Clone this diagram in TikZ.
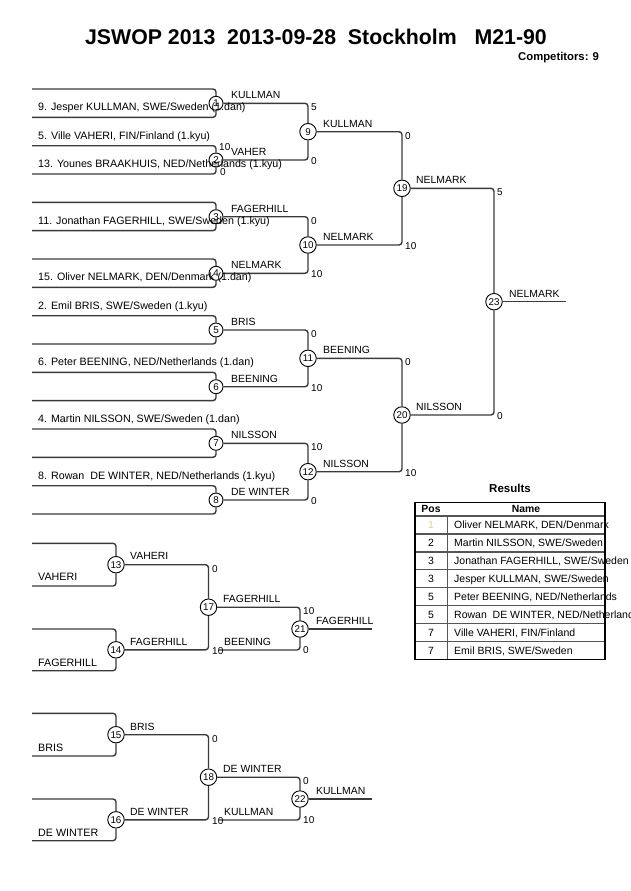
\documentclass[tikz,border=0pt]{standalone}
\usepackage{fontspec}
\setmainfont{Liberation Sans}
\definecolor{lc}{HTML}{3A3A3A}
\definecolor{pale}{HTML}{E2D27A}
\definecolor{tg}{HTML}{555555}
\begin{document}
\begin{tikzpicture}[x=1pt,y=-1pt,
  ln/.style={draw=lc, line width=1.4pt, rounded corners=3pt},
  mc/.style={circle, draw=black, line width=0.9pt, fill=white, inner sep=0pt, minimum size=14pt, font=\fontsize{9.8}{10}\selectfont},
  mcc/.style={mc, minimum size=16.5pt},
  nm/.style={anchor=west, inner sep=0pt, text height=7.6pt, text depth=0pt, font=\fontsize{10.7}{12}\selectfont},
  wl/.style={anchor=west, inner sep=0pt, text height=7.4pt, text depth=0pt, font=\fontsize{10.4}{12}\selectfont},
  sc/.style={anchor=west, inner sep=0pt, text height=7.2pt, text depth=0pt, font=\fontsize{10}{12}\selectfont},
  hd/.style={inner sep=0pt, text height=7.4pt, text depth=0pt, font=\bfseries\fontsize{10.4}{12}\selectfont},
  tx/.style={inner sep=0pt, text height=7.4pt, text depth=0pt, font=\fontsize{10.5}{12}\selectfont}]
\useasboundingbox (0,0) rectangle (630,891);

% title
\node[font=\bfseries\fontsize{21.3}{24}\selectfont, inner sep=0pt] (title) at (316,37.3) {JSWOP 2013~~2013-09-28~~Stockholm~~~M21-90};
\node[font=\bfseries\fontsize{11.3}{13}\selectfont, anchor=west, inner sep=0pt] (comp) at (518,57.3) {Competitors: 9};

% ---------- main bracket: circles ----------
\foreach \i/\cy in {1/103.3,2/160,3/216.7,4/273.3,5/330,6/386.7,7/443.3,8/500}
  \node[mc] (m\i) at (216,\cy) {\i};
\node[mcc] (m9)  at (308,131.7) {9};
\node[mcc] (m10) at (308,245) {10};
\node[mcc] (m11) at (308,358.3) {11};
\node[mcc] (m12) at (308,471.7) {12};
\node[mcc] (m19) at (402,188.3) {19};
\node[mcc] (m20) at (402,415) {20};
\node[mcc] (m23) at (494,301.7) {23};
\coordinate (f23) at (566,301.7);

% entry lines
\foreach \i/\t in {1/89,2/145.7,3/202.3,4/259,5/315.7,6/372.3,7/429,8/485.7}{
  \coordinate (e\i t) at (32,\t);
  \coordinate (e\i b) at (32,\t+28.3);
  \draw[ln] (e\i t) -| (m\i);
  \draw[ln] (e\i b) -| (m\i);
}
% round connectors
\draw[ln] (m1) -| (m9);  \draw[ln] (m2) -| (m9);
\draw[ln] (m3) -| (m10); \draw[ln] (m4) -| (m10);
\draw[ln] (m5) -| (m11); \draw[ln] (m6) -| (m11);
\draw[ln] (m7) -| (m12); \draw[ln] (m8) -| (m12);
\draw[ln] (m9) -| (m19); \draw[ln] (m10) -| (m19);
\draw[ln] (m11) -| (m20); \draw[ln] (m12) -| (m20);
\draw[ln] (m19) -| (m23); \draw[ln] (m20) -| (m23);
\draw[ln] (m23) -- (f23);

% competitor names
\node[nm] (n1) at (38,106.8) {9. Jesper KULLMAN, SWE/Sweden (1.dan)};
\node[nm] (n2) at (38,135.2) {5. Ville VAHERI, FIN/Finland (1.kyu)};
\node[nm] (n3) at (38,163.5) {13. Younes BRAAKHUIS, NED/Netherlands (1.kyu)};
\node[nm] (n4) at (38,220.2) {11. Jonathan FAGERHILL, SWE/Sweden (1.kyu)};
\node[nm] (n5) at (38,276.8) {15. Oliver NELMARK, DEN/Denmark (1.dan)};
\node[nm] (n6) at (38,305.2) {2. Emil BRIS, SWE/Sweden (1.kyu)};
\node[nm] (n7) at (38,361.8) {6. Peter BEENING, NED/Netherlands (1.dan)};
\node[nm] (n8) at (38,418.5) {4. Martin NILSSON, SWE/Sweden (1.dan)};
\node[nm] (n9) at (38,475.2) {8. Rowan~~DE WINTER, NED/Netherlands (1.kyu)};

% winner labels
\node[wl] (w1) at (231,95.0) {KULLMAN};
\node[wl] (w2) at (231,151.7) {VAHER};
\node[wl] (w3) at (231,208.4) {FAGERHILL};
\node[wl] (w4) at (231,265.0) {NELMARK};
\node[wl] (w5) at (231,321.7) {BRIS};
\node[wl] (w6) at (231,378.4) {BEENING};
\node[wl] (w7) at (231,435.0) {NILSSON};
\node[wl] (w8) at (231,491.7) {DE WINTER};
\node[wl] (w9)  at (323,123.4) {KULLMAN};
\node[wl] (w10) at (323,236.7) {NELMARK};
\node[wl] (w11) at (323,350.0) {BEENING};
\node[wl] (w12) at (323,463.4) {NILSSON};
\node[wl] (w19) at (416,180.0) {NELMARK};
\node[wl] (w20) at (416,406.7) {NILSSON};
\node[wl] (w23) at (509,293.4) {NELMARK};

% scores
\node[sc] (s2a) at (219,147) {10};
\node[sc] (s2b) at (220,172) {0};
\node[sc] (s9a) at (311,107.3) {5};
\node[sc] (s9b) at (311,161) {0};
\node[sc] (s10a) at (311,220.7) {0};
\node[sc] (s10b) at (311,274.3) {10};
\node[sc] (s11a) at (311,334) {0};
\node[sc] (s11b) at (311,387.7) {10};
\node[sc] (s12a) at (311,447.3) {10};
\node[sc] (s12b) at (311,501) {0};
\node[sc] (s19a) at (405,135.7) {0};
\node[sc] (s19b) at (405,246) {10};
\node[sc] (s20a) at (405,362.3) {0};
\node[sc] (s20b) at (405,472.7) {10};
\node[sc] (s23a) at (497,192.3) {5};
\node[sc] (s23b) at (497,416) {0};

% ---------- repechage ----------
\node[mcc] (m13) at (116,564.7) {13};
\node[mcc] (m14) at (116,649.8) {14};
\node[mcc] (m17) at (208.5,607.2) {17};
\node[mcc] (m21) at (300,629) {21};
\coordinate (r13t) at (32,543.3); \coordinate (r13b) at (32,586);
\coordinate (r14t) at (32,629);   \coordinate (r14b) at (32,670.7);
\coordinate (b21) at (219,650);
\coordinate (f21) at (372,629);
\draw[ln] (r13t) -| (m13); \draw[ln] (r13b) -| (m13);
\draw[ln] (r14t) -| (m14); \draw[ln] (r14b) -| (m14);
\draw[ln] (m13) -| (m17); \draw[ln] (m14) -| (m17);
\draw[ln] (m17) -| (m21); \draw[ln] (b21) -| (m21);
\draw[ln] (m21) -- (f21);
\node[nm] (q1) at (38,577) {VAHERI};
\node[nm] (q2) at (38,662.7) {FAGERHILL};
\node[wl] (w13) at (130,556) {VAHERI};
\node[wl] (w14) at (130,641.5) {FAGERHILL};
\node[wl] (w17) at (223,598.9) {FAGERHILL};
\node[wl] (wb21) at (224,641.7) {BEENING};
\node[wl] (w21) at (316,620.7) {FAGERHILL};
\node[sc] (s17a) at (212,568.5) {0};
\node[sc] (s17b) at (212,650.5) {10};
\node[sc] (s21a) at (303,611) {10};
\node[sc] (s21b) at (303,650) {0};

\node[mcc] (m15) at (116,734.7) {15};
\node[mcc] (m16) at (116,819.8) {16};
\node[mcc] (m18) at (208.5,777.2) {18};
\node[mcc] (m22) at (300,799) {22};
\coordinate (r15t) at (32,713.3); \coordinate (r15b) at (32,756);
\coordinate (r16t) at (32,799);   \coordinate (r16b) at (32,840.7);
\coordinate (b22) at (219,820);
\coordinate (f22) at (372,799);
\draw[ln] (r15t) -| (m15); \draw[ln] (r15b) -| (m15);
\draw[ln] (r16t) -| (m16); \draw[ln] (r16b) -| (m16);
\draw[ln] (m15) -| (m18); \draw[ln] (m16) -| (m18);
\draw[ln] (m18) -| (m22); \draw[ln] (b22) -| (m22);
\draw[ln] (m22) -- (f22);
\node[nm] (q3) at (38,747.3) {BRIS};
\node[nm] (q4) at (38,832.7) {DE WINTER};
\node[wl] (w15) at (130,726.3) {BRIS};
\node[wl] (w16) at (130,811.5) {DE WINTER};
\node[wl] (w18) at (223,768.9) {DE WINTER};
\node[wl] (wb22) at (224,811.7) {KULLMAN};
\node[wl] (w22) at (316,790.7) {KULLMAN};
\node[sc] (s18a) at (212,738.5) {0};
\node[sc] (s18b) at (212,820.5) {10};
\node[sc] (s22a) at (303,781) {0};
\node[sc] (s22b) at (303,820) {10};

% ---------- results table ----------
\node[font=\bfseries\fontsize{11.5}{13}\selectfont, inner sep=0pt, text height=8.3pt, text depth=0pt] (res) at (510,488.3) {Results};
\node[hd] (hpos) at (431,509.2) {Pos};
\node[hd] (hname) at (526,509.2) {Name};
\foreach \p/\nmtxt [count=\r] in {1/{Oliver NELMARK, DEN/Denmark},2/{Martin NILSSON, SWE/Sweden},3/{Jonathan FAGERHILL, SWE/Sweden},3/{Jesper KULLMAN, SWE/Sweden},5/{Peter BEENING, NED/Netherlands},5/{Rowan~~DE WINTER, NED/Netherlands},7/{Ville VAHERI, FIN/Finland},7/{Emil BRIS, SWE/Sweden}}{
  \ifnum\r=1
    \node[tx, text=pale] (p\r) at (431,{516+17.91*(\r-0.5)}) {\p};
  \else
    \node[tx] (p\r) at (431,{516+17.91*(\r-0.5)}) {\p};
  \fi
  \node[tx, anchor=west] (t\r) at (454,{516+17.91*(\r-0.5)}) {\nmtxt};
}
\foreach \r in {0,...,7}
  \draw[draw=tg, line width=1.5pt] (415,{516+17.91*\r}) -- (605,{516+17.91*\r});
\draw[draw=tg, line width=1.3pt] (447.3,516) -- (447.3,659.3);
\draw[draw=black, line width=1.6pt] (415,502.3) rectangle (605,659.3);
\end{tikzpicture}
\end{document}
